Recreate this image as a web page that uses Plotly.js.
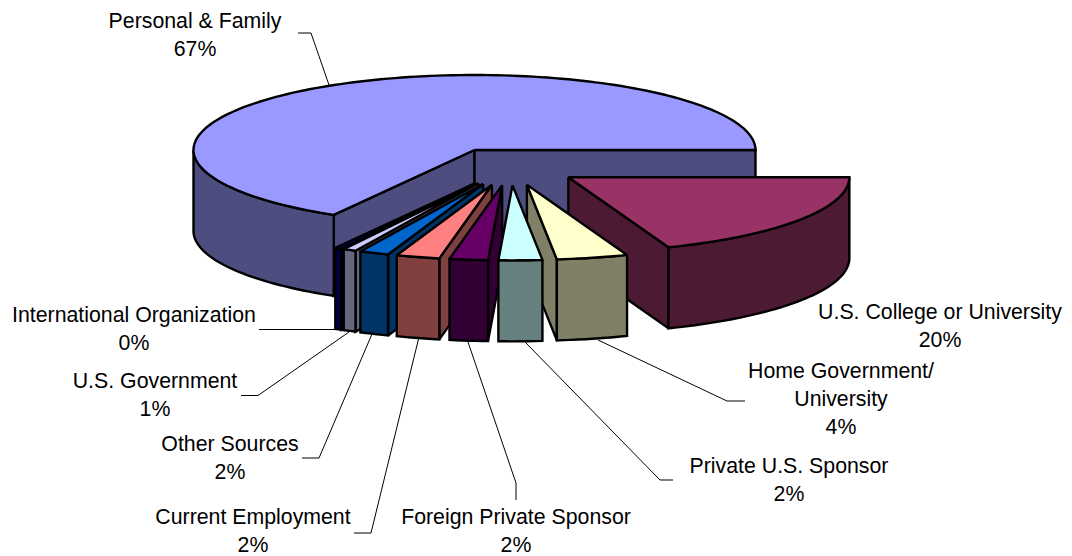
<!DOCTYPE html>
<html>
<head>
<meta charset="utf-8">
<script src="https://cdn.plot.ly/plotly-3.0.1.min.js"></script>
<style>html,body{margin:0;padding:0;background:#fff}</style>
</head>
<body>
<div id="chart" style="width:1072px;height:556px"></div>
<script>
// Slice names, printed percentages and the shares (clockwise from east)
const categories = ["U.S. College or University","Home Government/<br>University","Private U.S. Sponsor","Foreign Private Sponsor","Current Employment","Other Sources","U.S. Government","International Organization","Personal & Family"];
const percentLabels = ["20%","4%","2%","2%","2%","2%","1%","0%","67%"];
const shares = [19.2,4.1,2.5,2.2,2.5,1.7,0.75,0.4,66.65];
const topColors  = ["#993366","#FFFFCC","#CCFFFF","#660066","#FF8080","#0066CC","#CCCCFF","#000080","#9999FF"];
const sideColors = ["#4D1A33","#808066","#668080","#330033","#804040","#003366","#666680","#000040","#4D4D80"];
const exploded   = [1,1,1,1,1,1,1,1,0];
const drawOrder  = [8,7,6,5,4,3,0,1,2];

// Label placement: centre x, y of the first line
const labelX = [940,841,789,516,253,230,155,134,195];
const labelY = [313.5,372.5,467.5,519,519,445.5,382.5,316.5,22.5];
const lineStep = 28;
// Leader lines per slice
const leaderX = [[],[745,727,598],[673,660,525],[516,516,468],[354,371,419],[302,319,372],[241,258,349],[259,337],[298,311,329]];
const leaderY = [[],[401,401,340],[480,480,342],[500,483,342],[533,533,337],[458,458,334],[395.5,395.5,332],[329.5,329.5],[33,33,85]];

// Projection of the 3-D pie
const cx = 474.5, cy = 150, rx = 281, ry = 75, depth = 81;
const explodeFrac = 0.25, shiftX = 36, shiftY = 16.6;
const rad = d => d * Math.PI / 180;
const total = shares.reduce((a, b) => a + b, 0);

let start = 0;
const wedges = shares.map((s, i) => {
  const a0 = start, a1 = start + s / total * 360;
  start = a1;
  const mid = rad((a0 + a1) / 2);
  const ox = cx + (exploded[i] ? explodeFrac * rx * Math.cos(mid) + shiftX : 0);
  const oy = cy + (exploded[i] ? explodeFrac * ry * Math.sin(mid) + shiftY : 0);
  return {a0, a1, ox, oy};
});

const arc = (w, from, to) => {
  const n = Math.max(2, Math.ceil(Math.abs(to - from) / 1.5));
  const xs = [], ys = [];
  for (let k = 0; k <= n; k++) {
    const a = rad(from + (to - from) * k / n);
    xs.push(w.ox + rx * Math.cos(a));
    ys.push(w.oy + ry * Math.sin(a));
  }
  return [xs, ys];
};
const face = (xs, ys, color) => ({
  type: "scatter", mode: "lines", x: xs, y: ys, fill: "toself", fillcolor: color,
  line: {color: "#000", width: 2.4, simplify: false}, hoverinfo: "skip", showlegend: false
});

const traces = [];
drawOrder.forEach(i => {
  const w = wedges[i];
  const cut = a => {
    const px = w.ox + rx * Math.cos(rad(a)), py = w.oy + ry * Math.sin(rad(a));
    return face([w.ox, px, px, w.ox, w.ox], [w.oy, py, py + depth, w.oy + depth, w.oy], sideColors[i]);
  };
  // inner cut faces that look towards the viewer
  if (Math.cos(rad(w.a0)) < 0) traces.push(cut(w.a0));
  if (Math.cos(rad(w.a1)) > 0) traces.push(cut(w.a1));
  // outer rim: front half only
  const from = Math.max(w.a0, 0), to = Math.min(w.a1, 180);
  if (to > from) {
    const [xs, ys] = arc(w, from, to);
    const rimX = xs.concat(xs.slice().reverse(), [xs[0]]);
    const rimY = ys.concat(ys.slice().reverse().map(v => v + depth), [ys[0]]);
    traces.push(face(rimX, rimY, sideColors[i]));
  }
  // top surface
  const [tx, ty] = arc(w, w.a0, w.a1);
  traces.push(face([w.ox].concat(tx, [w.ox]), [w.oy].concat(ty, [w.oy]), topColors[i]));
});

// Leader lines
categories.forEach((c, i) => {
  if (leaderX[i].length) traces.push({
    type: "scatter", mode: "lines", x: leaderX[i], y: leaderY[i],
    line: {color: "#000", width: 1}, hoverinfo: "skip", showlegend: false
  });
});

// Text labels, one text point per line
const textX = [], textY = [], textS = [];
categories.forEach((c, i) => {
  c.split("<br>").concat(percentLabels[i]).forEach((t, k) => {
    textX.push(labelX[i]); textY.push(labelY[i] + k * lineStep); textS.push(t);
  });
});
traces.push({
  type: "scatter", mode: "text", x: textX, y: textY, text: textS, textposition: "middle center",
  textfont: {family: "Liberation Sans, Arial, sans-serif", size: 21.3, color: "#000"},
  cliponaxis: false, hoverinfo: "skip", showlegend: false
});

Plotly.newPlot("chart", traces, {
  width: 1072, height: 556, margin: {l: 0, r: 0, t: 0, b: 0},
  paper_bgcolor: "#fff", plot_bgcolor: "#fff",
  xaxis: {range: [0, 1072], visible: false, fixedrange: true},
  yaxis: {range: [556, 0], visible: false, fixedrange: true},
  showlegend: false
}, {displayModeBar: false, staticPlot: true});
</script>
</body>
</html>
